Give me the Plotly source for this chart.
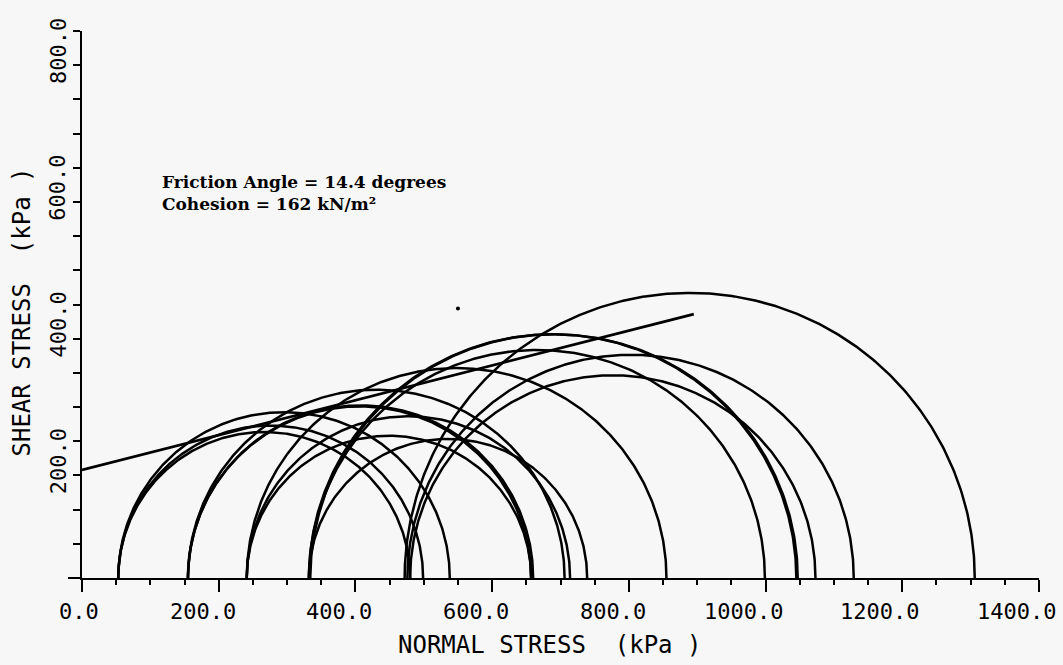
import numpy as np
import plotly.graph_objects as go

# ---- data (kPa) ----
# Mohr circles: minor principal stress (left intercept) and major principal stress (right intercept)
sigma3 = [53, 53, 53, 155, 155, 155, 241, 241, 241, 332, 332, 332, 334, 472, 476, 480]
sigma1 = [480, 499, 538, 657, 660, 706, 657, 714, 855, 739, 999, 1045, 1047, 1306, 1129, 1073]

# Failure envelope (Mohr-Coulomb line) end points
env_sigma = [0, 895]
env_tau = [158, 386]

# stray dot on the original plot
dot_sigma = [550]
dot_tau = [394]

x_ticks = [0, 200, 400, 600, 800, 1000, 1200, 1400]
y_ticks = [200, 400, 600, 800]

friction_text = "Friction Angle = 14.4 degrees"
cohesion_text = "Cohesion = 162 kN/m\u00b2"
x_title = "NORMAL STRESS\u00a0\u00a0(kPa )"
y_title = "SHEAR STRESS\u00a0\u00a0(kPa )"

fig = go.Figure()

theta = np.linspace(0, np.pi, 361)
for s3, s1 in zip(sigma3, sigma1):
    c = (s1 + s3) / 2.0
    r = (s1 - s3) / 2.0
    fig.add_trace(go.Scatter(
        x=c + r * np.cos(theta), y=r * np.sin(theta),
        mode="lines", line=dict(color="black", width=2.5),
        hoverinfo="skip", showlegend=False))

fig.add_trace(go.Scatter(x=env_sigma, y=env_tau, mode="lines",
                         line=dict(color="black", width=2.8),
                         showlegend=False, hoverinfo="skip"))
fig.add_trace(go.Scatter(x=dot_sigma, y=dot_tau, mode="markers",
                         marker=dict(color="black", size=4),
                         showlegend=False, hoverinfo="skip"))

tick_font = dict(family="DejaVu Sans Mono", size=22, color="black")
title_font = dict(family="DejaVu Sans Mono", size=24, color="black")

annotations = []
for v in x_ticks:
    annotations.append(dict(x=v, y=0, xref="x", yref="y", text=f"{v:.1f}",
                            showarrow=False, xanchor="right", yanchor="middle",
                            xshift=19, yshift=-33, font=tick_font))
for v in y_ticks:
    annotations.append(dict(x=0, y=v, xref="paper", yref="y", text=f"{v:.1f}",
                            showarrow=False, xanchor="center", yanchor="middle",
                            xshift=-24, yshift=-20, textangle=-90, font=tick_font))
annotations.append(dict(x=0.5, y=0, xref="paper", yref="paper", text=x_title,
                        showarrow=False, xanchor="center", yanchor="middle",
                        xshift=-11, yshift=-67, font=title_font))
annotations.append(dict(x=0, y=0.5, xref="paper", yref="paper", text=y_title,
                        showarrow=False, xanchor="center", yanchor="middle",
                        xshift=-61, yshift=-8, textangle=-90, font=title_font))
annotations.append(dict(x=114, y=563, xref="x", yref="y",
                        text="<b>" + friction_text + "<br>" + cohesion_text + "</b>",
                        showarrow=False, xanchor="left", yanchor="middle", align="left",
                        font=dict(family="DejaVu Serif", size=17, color="black")))

fig.update_layout(
    width=1063, height=665,
    margin=dict(l=82, r=24, t=31, b=87),
    paper_bgcolor="#f7f7f7", plot_bgcolor="#f7f7f7",
    annotations=annotations,
    showlegend=False,
)
fig.update_xaxes(range=[0, 1400], showgrid=False, zeroline=False,
                 showline=True, linecolor="black", linewidth=2,
                 ticks="outside", tickvals=x_ticks, ticklen=12, tickwidth=2,
                 tickcolor="black", showticklabels=False,
                 minor=dict(dtick=50, tick0=0, ticks="outside", ticklen=5,
                            tickwidth=2, tickcolor="black", showgrid=False))
fig.update_yaxes(range=[0, 800], showgrid=False, zeroline=False,
                 showline=True, linecolor="black", linewidth=2,
                 ticks="outside", tickvals=[0], ticklen=12, tickwidth=2,
                 tickcolor="black", showticklabels=False,
                 minor=dict(dtick=50, tick0=0, ticks="outside", ticklen=7,
                            tickwidth=2, tickcolor="black", showgrid=False))

fig.write_html("out.html")
